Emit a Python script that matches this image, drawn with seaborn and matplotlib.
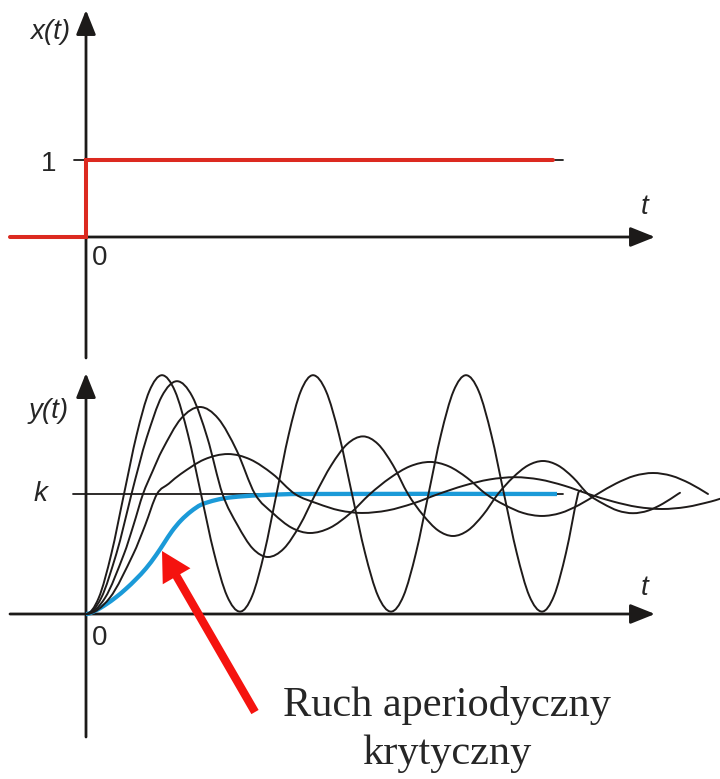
import numpy as np
import matplotlib
matplotlib.use("Agg")
import matplotlib.pyplot as plt
import seaborn as sns
from matplotlib.path import Path
from matplotlib.patches import PathPatch

# ---------------- data ----------------
# input: unit step x(t)
step_t = [-7.6, 0.0, 46.7]
step_x = [0.0, 1.0, 1.0]

k_level = 1.0

# responses y(t) (values in units of k)
undamped_t = [0, 1.27, 2.53, 3.8, 5.07, 6.33, 7.6, 8.9, 10.2, 11.5, 12.8, 14.1, 15.4,
              16.62, 17.83, 19.05, 20.27, 21.48, 22.7, 24.0, 25.3, 26.6, 27.9, 29.2, 30.5,
              31.75, 33.0, 34.25, 35.5, 36.75, 38.0, 39.27, 40.53, 41.8, 43.07, 44.33, 45.6,
              46.8, 48.0, 49.2, 49.5]
undamped_y = [0, 0.134, 0.5, 1.0, 1.495, 1.857, 1.99, 1.857, 1.495, 1.0, 0.51, 0.151, 0.02,
              0.151, 0.51, 1.0, 1.495, 1.857, 1.99, 1.857, 1.495, 1.0, 0.51, 0.151, 0.02,
              0.151, 0.51, 1.0, 1.495, 1.857, 1.99, 1.857, 1.495, 1.0, 0.51, 0.151, 0.02,
              0.151, 0.51, 1.0, 1.03]

weak_t = [0, 1.52, 3.03, 3.79, 4.55, 5.31, 6.07, 7.58, 9.1,
          10.62, 12.13, 13.65, 15.17, 16.68, 18.2,
          19.78, 21.37, 22.95, 24.53, 26.12, 27.7,
          29.2, 30.7, 32.2, 33.7, 35.2, 36.7,
          38.2, 39.7, 41.2, 42.7, 44.2, 45.7,
          47.2, 48.7, 50.2, 51.7, 53.2, 54.7,
          56.2, 57.7, 59.2, 59.4]
weak_y = [0, 0.134, 0.5, 0.741, 1.0, 1.243, 1.47, 1.814, 1.94,
          1.814, 1.47, 1.0, 0.738, 0.545, 0.475,
          0.545, 0.738, 1.0, 1.24, 1.416, 1.48,
          1.416, 1.24, 1.0, 0.825, 0.697, 0.65,
          0.697, 0.825, 1.0, 1.138, 1.238, 1.275,
          1.238, 1.138, 1.0, 0.92, 0.861, 0.84,
          0.861, 0.92, 1.0, 1.01]

medium_t = [0, 1.9, 3.8, 4.75, 5.7, 6.65, 7.6, 9.5, 11.4,
            13.23, 15.07, 16.9, 18.73, 20.57, 22.4,
            24.4, 26.4, 28.4, 30.4, 32.4, 34.4,
            36.27, 38.13, 40.0, 41.87, 43.73, 45.6,
            47.45, 49.3, 51.15, 53.0, 54.85, 56.7,
            58.55, 60.4, 62.2]
medium_y = [0, 0.134, 0.5, 0.741, 1.0, 1.188, 1.3625, 1.628, 1.725,
            1.628, 1.3625, 1.0, 0.8375, 0.7185, 0.675,
            0.7185, 0.8375, 1.0, 1.1335, 1.231, 1.267,
            1.231, 1.1335, 1.0, 0.9085, 0.8415, 0.817,
            0.8415, 0.9085, 1.0, 1.0875, 1.1515, 1.175,
            1.1515, 1.0875, 1.0]

strong_t = [0, 2.37, 4.73, 5.92, 7.1, 8.28, 9.47, 11.83, 14.2,
            16.43, 18.67, 20.9, 23.13, 25.37, 27.6,
            30.15, 32.7, 35.25, 37.8, 40.35, 42.9,
            45.35, 47.8, 50.25, 52.7, 55.15, 57.6,
            60.05, 62.5, 63.4]
strong_y = [0, 0.134, 0.5, 0.741, 1.0, 1.086, 1.1665, 1.288, 1.333,
            1.288, 1.1665, 1.0, 0.921, 0.863, 0.842,
            0.863, 0.921, 1.0, 1.07, 1.121, 1.14,
            1.121, 1.07, 1.0, 0.9375, 0.892, 0.875,
            0.892, 0.9375, 0.96]

critical_t = [0, 1.0, 2.0, 3.0, 4.0, 5.0, 6.0, 7.0, 7.8, 8.6, 9.5, 10.5, 11.5,
              13.0, 14.5, 17.4, 21.4, 47.1]
critical_y = [0, 0.03, 0.08, 0.14, 0.21, 0.29, 0.38, 0.49, 0.59, 0.69, 0.78, 0.855, 0.91,
              0.95, 0.972, 0.99, 1.0, 1.0]

# ---------------- style ----------------
AX_COLOR = "#1c1a19"
CURVE_COLOR = "#1f1b1a"
STEP_RED = "#dc2a20"
ARROW_RED = "#f5130f"
BLUE = "#1b9ad8"
LABEL_SIZE = 20

T_LIM = (-8.6, 63.4)


def smooth_path(t, y):
    """Cubic Hermite path through the given points (flat start)."""
    t = np.asarray(t, float)
    y = np.asarray(y, float)
    m = np.empty_like(y)
    m[1:-1] = (y[2:] - y[:-2]) / (t[2:] - t[:-2])
    m[0] = 0.0
    m[-1] = (y[-1] - y[-2]) / (t[-1] - t[-2])
    verts = [(t[0], y[0])]
    codes = [Path.MOVETO]
    for i in range(len(t) - 1):
        h = t[i + 1] - t[i]
        verts += [(t[i] + h / 3, y[i] + m[i] * h / 3),
                  (t[i + 1] - h / 3, y[i + 1] - m[i + 1] * h / 3),
                  (t[i + 1], y[i + 1])]
        codes += [Path.CURVE4] * 3
    return Path(verts, codes)


def axis_arrow(ax, start, end):
    ax.annotate("", xy=end, xytext=start, xycoords="data", annotation_clip=False,
                arrowprops=dict(arrowstyle="-|>,head_length=0.75,head_width=0.3",
                                mutation_scale=20, lw=2.0, color=AX_COLOR,
                                shrinkA=0, shrinkB=0))


sns.set_theme(style="white")
plt.rcParams["font.family"] = ["Liberation Sans", "DejaVu Sans"]

fig = plt.figure(figsize=(7.2, 7.79), dpi=100)
fig.patch.set_facecolor("white")

# ---------------- top panel: x(t) ----------------
ax1 = fig.add_axes([0, 1 - 365 / 779, 1, 365 / 779])
ax1.set_xlim(*T_LIM)
ax1.set_ylim(-128 / 77, 237 / 77)
ax1.axis("off")

axis_arrow(ax1, (-7.6, 0), (56.9, 0))
axis_arrow(ax1, (0, -1.571), (0, 2.948))
sns.lineplot(x=[-1.2, 47.7], y=[step_x[-1], step_x[-1]], ax=ax1, color=AX_COLOR, lw=1.3)
sns.lineplot(x=step_t, y=step_x, ax=ax1, color=STEP_RED, lw=2.9,
             drawstyle="steps-post", solid_joinstyle="miter", zorder=5)

ax1.text(-3.6, 2.66, "x(t)", style="italic", fontsize=LABEL_SIZE, ha="center", va="center")
ax1.text(-3.7, 0.95, "1", fontsize=LABEL_SIZE, ha="center", va="center")
ax1.text(1.4, -0.27, "0", fontsize=LABEL_SIZE, ha="center", va="center")
ax1.text(55.9, 0.39, "t", style="italic", fontsize=LABEL_SIZE, ha="center", va="center")

# ---------------- bottom panel: y(t) ----------------
ax2 = fig.add_axes([0, 0, 1, 414 / 779])
ax2.set_xlim(*T_LIM)
ax2.set_ylim(-165 / 120, 249 / 120)
ax2.axis("off")

axis_arrow(ax2, (-7.6, 0), (56.9, 0))
axis_arrow(ax2, (0, -1.025), (0, 2.008))
sns.lineplot(x=[-1.3, 47.7], y=[k_level, k_level], ax=ax2, color=AX_COLOR, lw=1.3)

ax2.add_patch(PathPatch(smooth_path(critical_t, critical_y), facecolor="none",
                        edgecolor=BLUE, lw=3.1, capstyle="butt", zorder=3))
for tt, yy in [(undamped_t, undamped_y), (weak_t, weak_y),
               (medium_t, medium_y), (strong_t, strong_y)]:
    ax2.add_patch(PathPatch(smooth_path(tt, yy), facecolor="none",
                            edgecolor=CURVE_COLOR, lw=1.4, capstyle="round", zorder=4))

ax2.text(-3.7, 1.69, "y(t)", style="italic", fontsize=LABEL_SIZE, ha="center", va="center")
ax2.text(-4.6, k_level, "k", style="italic", fontsize=LABEL_SIZE, ha="center", va="center")
ax2.text(1.4, -0.2, "0", fontsize=LABEL_SIZE, ha="center", va="center")
ax2.text(55.9, 0.22, "t", style="italic", fontsize=LABEL_SIZE, ha="center", va="center")

ax2.annotate("", xy=(7.6, 0.525), xytext=(16.9, -0.817), xycoords="data",
             annotation_clip=False,
             arrowprops=dict(arrowstyle="simple,head_length=1.05,head_width=1.15,tail_width=0.3",
                             mutation_scale=20, color=ARROW_RED, lw=0,
                             shrinkA=0, shrinkB=0), zorder=6)
ax2.text(36.1, -0.85, "Ruch aperiodyczny", family=["Liberation Serif", "DejaVu Serif"],
         fontsize=30.5, ha="center", va="baseline")
ax2.text(36.1, -1.25, "krytyczny", family=["Liberation Serif", "DejaVu Serif"],
         fontsize=30.5, ha="center", va="baseline")

fig.savefig("out.png", dpi=100, facecolor="white")
